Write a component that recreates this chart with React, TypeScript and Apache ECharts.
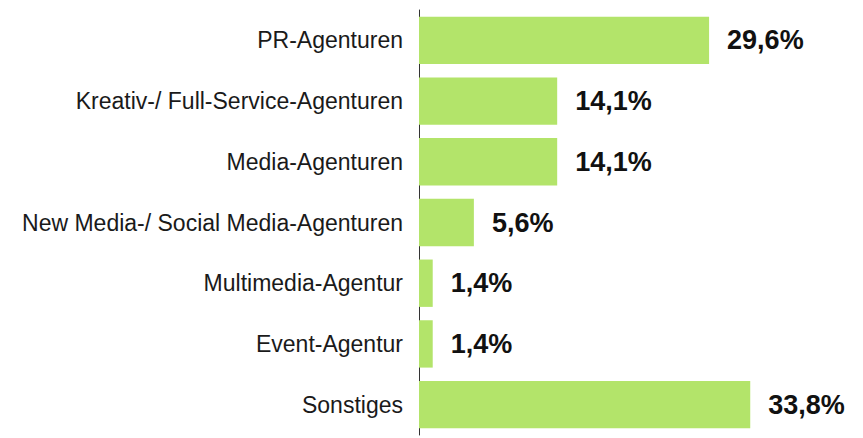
import React, { useEffect, useRef } from "react";
import * as echarts from "echarts";

const categories = [
  "PR-Agenturen",
  "Kreativ-/ Full-Service-Agenturen",
  "Media-Agenturen",
  "New Media-/ Social Media-Agenturen",
  "Multimedia-Agentur",
  "Event-Agentur",
  "Sonstiges",
];
const values = [29.6, 14.1, 14.1, 5.6, 1.4, 1.4, 33.8];

export default function App() {
  const ref = useRef<HTMLDivElement>(null);
  useEffect(() => {
    if (!ref.current) return;
    const chart = echarts.init(ref.current, null, { renderer: "svg" });
    chart.setOption({
      animation: false,
      grid: { left: 411, top: 2, height: 425, width: 392 },
      xAxis: {
        type: "value",
        min: 0,
        max: 40,
        show: false,
      },
      yAxis: {
        type: "category",
        inverse: true,
        data: categories,
        axisLine: { show: true, lineStyle: { color: "#333", width: 1 } },
        axisTick: { show: false },
        axisLabel: {
          margin: 16,
          fontFamily: "Liberation Sans, Arial, sans-serif",
          fontSize: 23,
          color: "#1a1a1a",
        },
      },
      series: [
        {
          type: "bar",
          data: values,
          barCategoryGap: "22%",
          itemStyle: { color: "#b3e46a" },
          label: {
            show: true,
            position: "right",
            distance: 18,
            fontFamily: "Liberation Sans, Arial, sans-serif",
            fontSize: 27,
            fontWeight: "bold",
            color: "#111",
            formatter: (p: any) => p.value.toFixed(1).replace(".", ",") + "%",
          },
        },
      ],
    });
    return () => chart.dispose();
  }, []);
  return <div ref={ref} style={{ width: 847, height: 430 }} />;
}
